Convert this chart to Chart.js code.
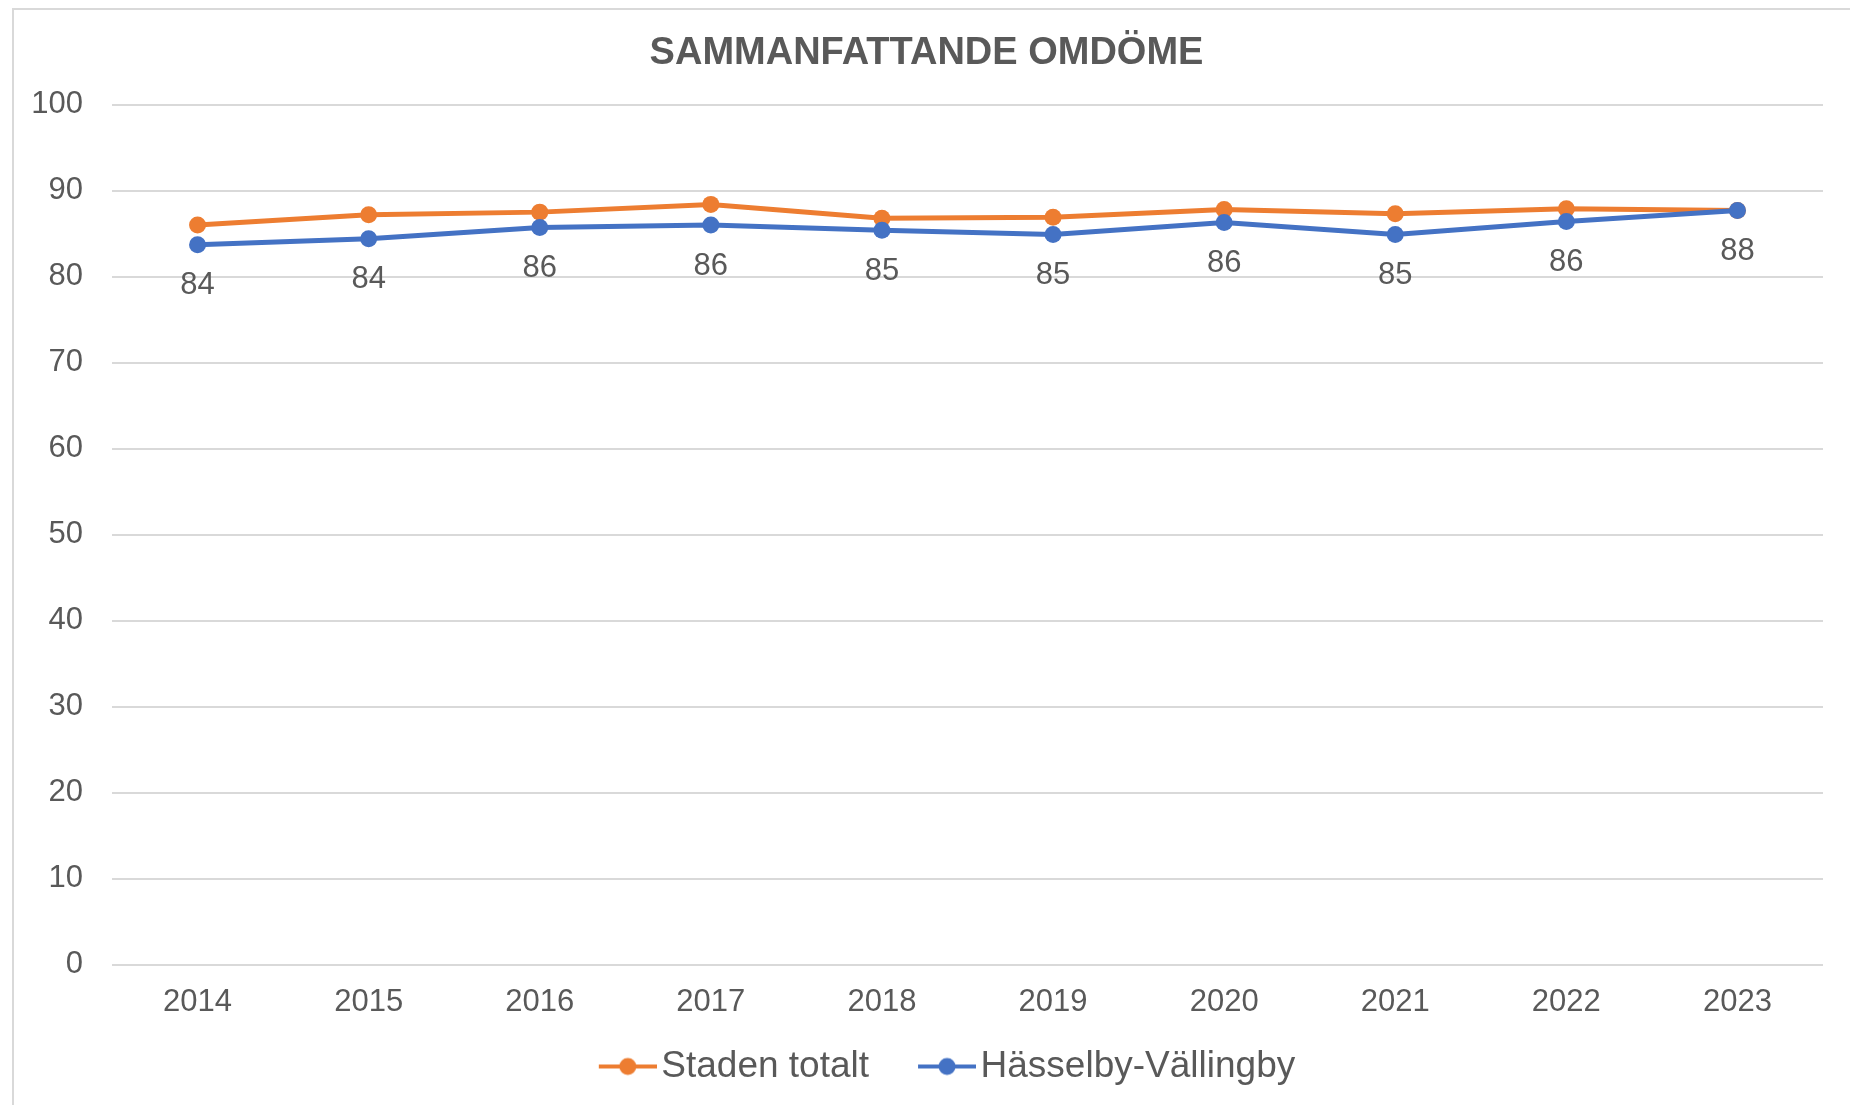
<!DOCTYPE html>
<html>
<head>
<meta charset="utf-8">
<script src="https://cdn.jsdelivr.net/npm/chart.js@4.4.1/dist/chart.umd.min.js"></script>
<style>
  body { margin: 0; background: #fff; overflow: hidden; }
  #frame { position: absolute; left: 12px; top: 8px; width: 1900px; height: 1200px; border: 2px solid #d9d9d9; }
  #chart { position: absolute; left: 0; top: 0; }
</style>
</head>
<body>
<div id="frame"></div>
<canvas id="chart" width="1850" height="1105"></canvas>
<script>
"use strict";
const years = ['2014', '2015', '2016', '2017', '2018', '2019', '2020', '2021', '2022', '2023'];
const stadenTotalt = [86.0, 87.2, 87.5, 88.4, 86.8, 86.9, 87.8, 87.3, 87.9, 87.7];
const hasselbyVallingby = [83.7, 84.4, 85.7, 86.0, 85.4, 84.9, 86.3, 84.9, 86.4, 87.7];
const yTicks = [0, 10, 20, 30, 40, 50, 60, 70, 80, 90, 100];

const textColor = '#595959';
const orange = '#ED7D31';
const blue = '#4472C4';

Chart.defaults.font.family = '"Liberation Sans", Arial, sans-serif';
Chart.defaults.color = textColor;

// line + dot icon for the legend; the drawing sits at the right end of the image
// so that it hugs the text and leaves room before it
function legendIcon(color) {
    const c = document.createElement('canvas');
    c.width = 113;
    c.height = 20;
    const ctx = c.getContext('2d');
    ctx.strokeStyle = color;
    ctx.lineWidth = 4;
    ctx.beginPath();
    ctx.moveTo(55, 10);
    ctx.lineTo(113, 10);
    ctx.stroke();
    ctx.fillStyle = color;
    ctx.beginPath();
    ctx.arc(84, 10, 8.5, 0, Math.PI * 2);
    ctx.fill();
    return c;
}
const legendIcons = [legendIcon(orange), legendIcon(blue)];

// values under the blue points
const valueLabels = {
    id: 'valueLabels',
    afterDatasetsDraw(chart) {
        const meta = chart.getDatasetMeta(1);
        const ctx = chart.ctx;
        ctx.save();
        ctx.font = '31px "Liberation Sans", Arial, sans-serif';
        ctx.fillStyle = textColor;
        ctx.textAlign = 'center';
        ctx.textBaseline = 'middle';
        meta.data.forEach((point, i) => {
            ctx.fillText(String(Math.round(hasselbyVallingby[i])), point.x, point.y + 41);
        });
        ctx.restore();
    }
};

new Chart(document.getElementById('chart'), {
    type: 'line',
    data: {
        labels: years,
        datasets: [{
                label: 'Staden totalt',
                data: stadenTotalt,
                borderColor: orange,
                backgroundColor: orange,
                borderWidth: 5,
                pointRadius: 8.5,
                pointBorderWidth: 0,
                order: 1,
            }, {
                label: 'Hässelby-Vällingby',
                data: hasselbyVallingby,
                borderColor: blue,
                backgroundColor: blue,
                borderWidth: 5,
                pointRadius: 8.5,
                pointBorderWidth: 0,
                order: 0,
            }],
    },
    options: {
        responsive: false,
        animation: false,
        layout: {
            padding: { left: 30, right: 27, top: 0, bottom: 10 }
        },
        plugins: {
            title: {
                display: true,
                text: 'SAMMANFATTANDE OMDÖME',
                color: textColor,
                font: { size: 38, weight: 'bold' },
                padding: { top: 31, bottom: 28 },
            },
            legend: {
                position: 'bottom',
                labels: {
                    color: textColor,
                    font: { size: 37 },
                    usePointStyle: true,
                    pointStyleWidth: 85,
                    padding: 8,
                    sort: (a, b) => a.datasetIndex - b.datasetIndex,
                    generateLabels: chart => Chart.defaults.plugins.legend.labels.generateLabels(chart)
                        .map(item => Object.assign(item, { pointStyle: legendIcons[item.datasetIndex] })),
                },
            },
            tooltip: { enabled: false },
        },
        scales: {
            x: {
                offset: true,
                grid: { display: false, drawTicks: false },
                border: { display: false },
                ticks: { font: { size: 31 }, padding: 19, color: textColor },
            },
            y: {
                min: 0,
                max: 100,
                afterBuildTicks: scale => { scale.ticks = yTicks.map(v => ({ value: v })); },
                grid: { color: '#d9d9d9', lineWidth: 2, drawTicks: false },
                border: { display: false },
                ticks: { font: { size: 31 }, padding: 29, color: textColor },
                afterFit: scale => { scale.width = 82; },
            },
        },
    },
    plugins: [valueLabels],
});
</script>
</body>
</html>
